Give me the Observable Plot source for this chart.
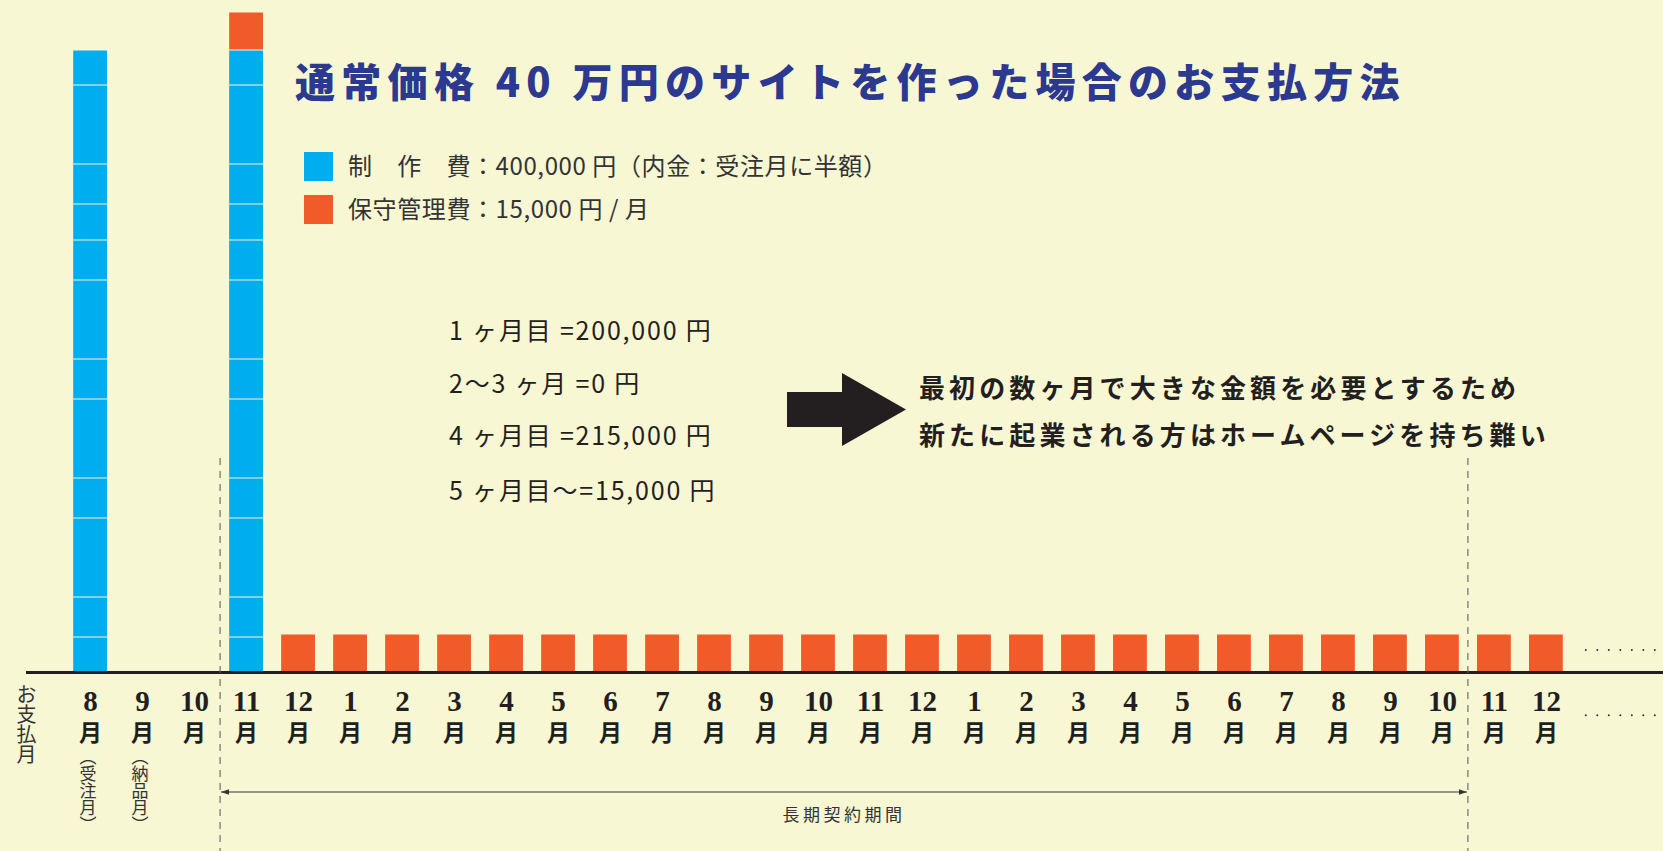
<!DOCTYPE html>
<html><head><meta charset="utf-8">
<script src="https://cdn.jsdelivr.net/npm/d3@7"></script>
<script src="https://cdn.jsdelivr.net/npm/@observablehq/plot@0.6"></script>
<style>
body{margin:0;background:#f8f7d4;}
#wrap{position:relative;width:1663px;height:851px;overflow:hidden;background:#f8f7d4;font-family:"Noto Sans CJK JP","Noto Sans",sans-serif;color:#333;}
.abs{position:absolute;white-space:nowrap;line-height:1;}
.vert{position:absolute;writing-mode:vertical-rl;line-height:1;white-space:nowrap;}
</style></head><body><div id="wrap"></div>
<script>
// ---- data ----
const monthLabels = ["8","9","10","11","12","1","2","3","4","5","6","7","8","9","10","11","12","1","2","3","4","5","6","7","8","9","10","11","12"];
const productionMonths = [0, 3];              // 8月(受注月), 11月
const productionBlocks = [0.875, 1, 1.975, 1, 1.975, 1, 1.975, 1, 0.9, 1, 1.975, 0.875]; // blue blocks, bottom→top (display units)
const maintenanceStart = 3;                    // 保守管理費 from 11月
const maintenanceBlock = 0.95;                 // display units
const seriesNames = ["制作費", "保守管理費"];
const seriesColors = ["#00aeef", "#f15a29"];
const contractBounds = [3, 27];                // 長期契約期間: 11月 … 10月
const subLabels = [{i: 0, text: "（受注月）"}, {i: 1, text: "（納品月）"}];
const titleText = "通常価格 40 万円のサイトを作った場合のお支払方法";
const legendLabels = ["制　作　費：400,000 円（内金：受注月に半額）", "保守管理費：15,000 円 / 月"];
const notes = ["1 ヶ月目 =200,000 円", "2〜3 ヶ月 =0 円", "4 ヶ月目 =215,000 円", "5 ヶ月目〜=15,000 円"];
const message = ["最初の数ヶ月で大きな金額を必要とするため", "新たに起業される方はホームページを持ち難い"];
const axisTitle = "お支払月";
const periodLabel = "長期契約期間";

const blocks = [];
monthLabels.forEach((m, i) => {
  if (productionMonths.includes(i)) productionBlocks.forEach(v => blocks.push({i, v, kind: seriesNames[0]}));
  if (i >= maintenanceStart) blocks.push({i, v: maintenanceBlock, kind: seriesNames[1]});
});

const plot = Plot.plot({
  width: 1663, height: 851,
  marginLeft: 55, marginRight: 82, marginTop: 10, marginBottom: 179,
  style: {background: "transparent", color: "#231f20", overflow: "visible"},
  x: {type: "band", domain: d3.range(monthLabels.length), padding: 0.35, round: false, label: null},
  y: {domain: [0, 16.55], axis: null, label: null},
  color: {domain: seriesNames, range: seriesColors},
  marks: [
    Plot.rectY(blocks, Plot.stackY({x: "i", y: "v", fill: "kind", insetTop: 0.5, insetBottom: 0.5})),
    Plot.ruleY([0], {stroke: "#231f20", strokeWidth: 3, insetLeft: -29, insetRight: -82}),
    Plot.axisX({tickSize: 0, tickPadding: 18, label: null, tickFormat: i => monthLabels[i], fontFamily: "Liberation Serif", fontWeight: "bold", fontSize: 29, fill: "#231f20"}),
    Plot.axisX({tickSize: 0, tickPadding: 52, label: null, tickFormat: () => "月", fontFamily: "Noto Sans CJK JP", fontWeight: "bold", fontSize: 23, fill: "#231f20"})
  ]
});
plot.style.position = "absolute";
plot.style.left = "0px";
plot.style.top = "0px";
const wrap = document.getElementById("wrap");
wrap.appendChild(plot);

// ---- annotations using the plot's scales ----
const sx = plot.scale("x"), sy = plot.scale("y");
const half = (sx.step - sx.bandwidth) / 2;
const boundary = i => sx.apply(i) - half;
const center = i => sx.apply(i) + sx.bandwidth / 2;
const svg = d3.select(plot);
const defs = svg.append("defs");
defs.append("marker").attr("id", "ah").attr("viewBox", "0 0 10 10").attr("refX", 10).attr("refY", 5)
  .attr("markerWidth", 8).attr("markerHeight", 8).attr("orient", "auto-start-reverse").attr("markerUnits", "userSpaceOnUse")
  .append("path").attr("d", "M0,1.5L10,5L0,8.5z").attr("fill", "#333");

const g = svg.append("g");
contractBounds.forEach(i => {
  g.append("line").attr("x1", boundary(i)).attr("x2", boundary(i))
    .attr("y1", sy.apply(5.35)).attr("y2", 851)
    .attr("stroke", "#555").attr("stroke-width", 1).attr("stroke-dasharray", "7,6");
});
const xa = boundary(contractBounds[0]), xb = boundary(contractBounds[1]);
const yArrow = sy.apply(-3);
g.append("line").attr("x1", xa + 1).attr("x2", xb - 1).attr("y1", yArrow).attr("y2", yArrow)
  .attr("stroke", "#333").attr("stroke-width", 1.2)
  .attr("marker-start", "url(#ah)").attr("marker-end", "url(#ah)");
g.append("text").attr("x", (xa + xb) / 2).attr("y", yArrow + 29).attr("text-anchor", "middle")
  .attr("font-family", "Noto Sans CJK JP").attr("font-size", 17).attr("letter-spacing", 3.5).attr("fill", "#333")
  .text(periodLabel);
// continuation dots
const lastEnd = sx.apply(monthLabels.length - 1) + sx.bandwidth;
[sy.apply(0.55), sy.apply(-1.08)].forEach(y => {
  g.append("line").attr("x1", lastEnd + 23).attr("x2", 1663).attr("y1", y).attr("y2", y)
    .attr("stroke", "#333").attr("stroke-width", 2).attr("stroke-linecap", "round").attr("stroke-dasharray", "0,11.5");
});

// ---- HTML overlays ----
function addDiv(cls, text, css) {
  const d = document.createElement("div");
  d.className = cls; d.textContent = text;
  Object.assign(d.style, css);
  wrap.appendChild(d);
  return d;
}
addDiv("abs", titleText, {left: "295px", top: "60px", fontSize: "40px", fontWeight: "900", color: "#2b3990", letterSpacing: "6.3px"});
legendLabels.forEach((t, k) => {
  addDiv("abs", "", {left: "304px", top: (152 + k * 43) + "px", width: "29px", height: "29px", background: seriesColors[k]});
  addDiv("abs", t, {left: "348px", top: (152.5 + k * 43.5) + "px", fontSize: "24px", color: "#333", letterSpacing: "0.6px"});
});
notes.forEach((t, k) => {
  addDiv("abs", t, {left: "449px", top: [317, 370, 422, 477][k] + "px", fontSize: "25px", color: "#231f20", letterSpacing: "1.8px"});
});
message.forEach((t, k) => {
  addDiv("abs", t, {left: "919px", top: (374 + k * 47) + "px", fontSize: "26px", fontWeight: "700", color: "#231f20", letterSpacing: "4.1px"});
});
// big arrow
const arrowSvg = d3.select(wrap).append("svg").attr("width", 1663).attr("height", 851)
  .style("position", "absolute").style("left", 0).style("top", 0).style("pointer-events", "none");
arrowSvg.append("path").attr("d", "M787,392H842V373L906,409.5L842,446V427H787Z").attr("fill", "#231f20");

addDiv("vert", axisTitle, {left: "16px", top: "684px", fontSize: "20px", color: "#333"});
subLabels.forEach(s => {
  addDiv("vert", s.text, {left: (center(s.i) - 2 - 8.5) + "px", top: "748px", fontSize: "17px", color: "#333"});
});
</script></body></html>
